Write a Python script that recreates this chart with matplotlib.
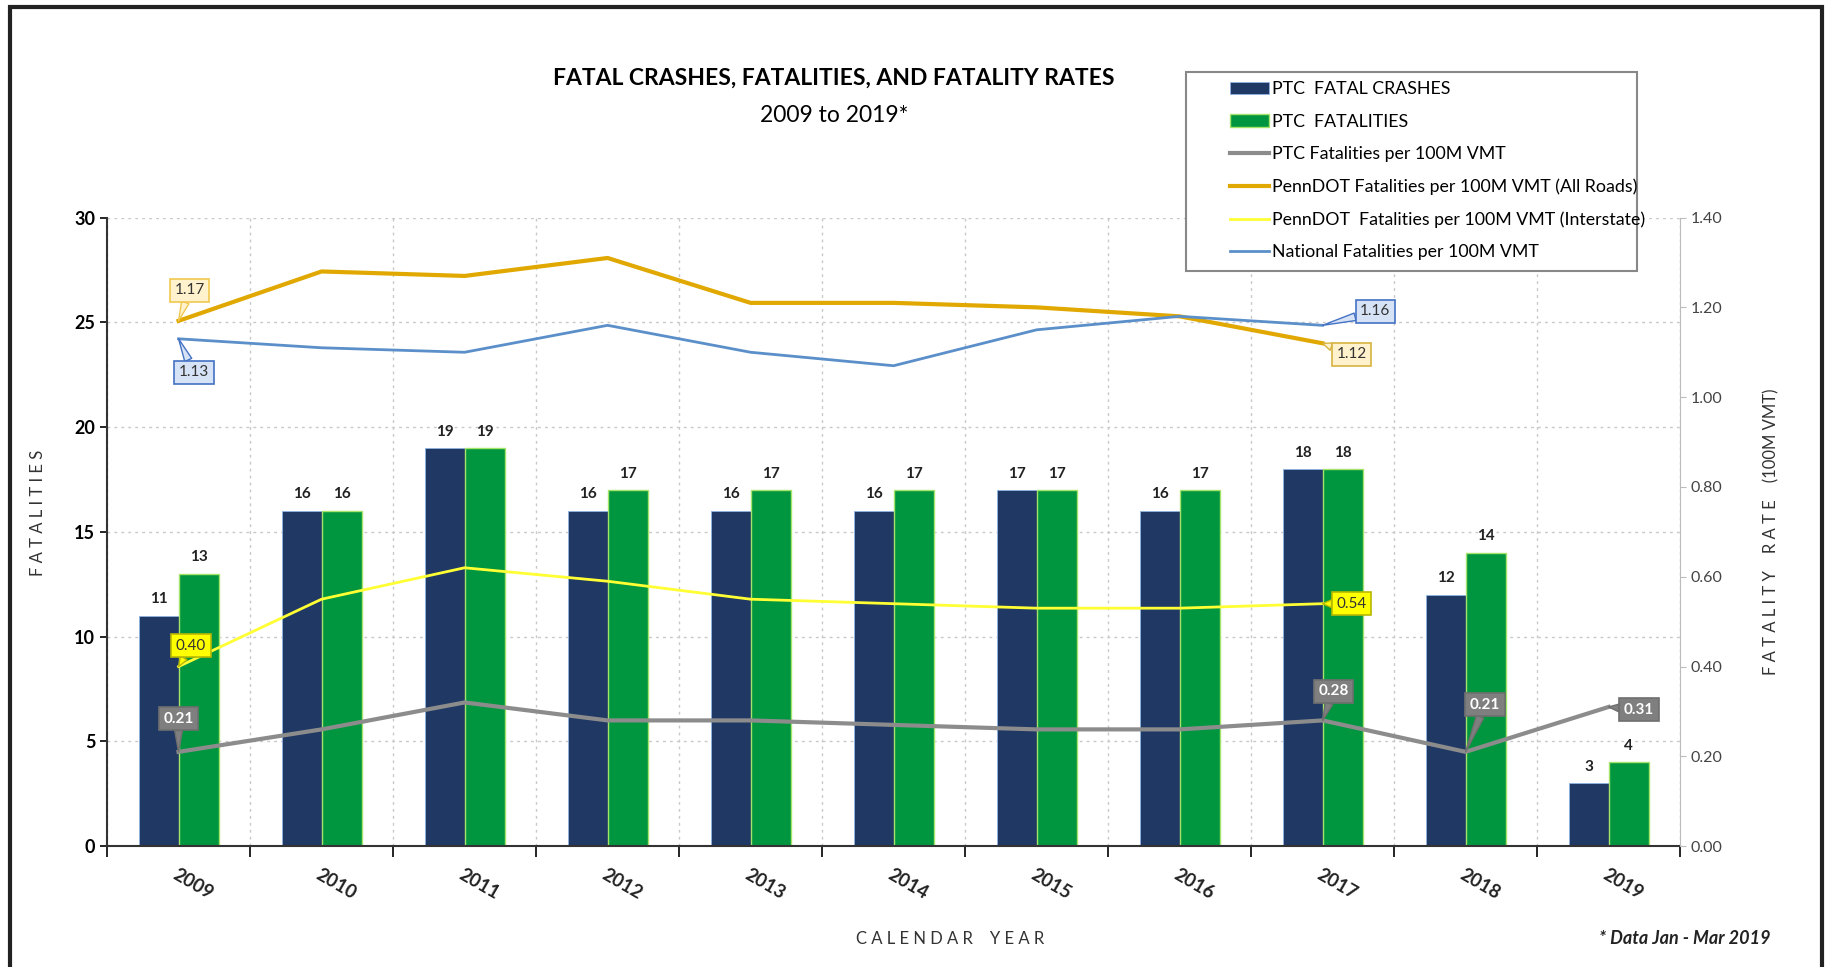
import matplotlib
matplotlib.use("Agg")
import matplotlib.pyplot as plt
import numpy as np
from matplotlib.patches import Rectangle

plt.rcParams['font.family'] = ['Lato', 'DejaVu Sans']

years = ["2009", "2010", "2011", "2012", "2013", "2014", "2015", "2016", "2017", "2018", "2019"]
fatal_crashes = [11, 16, 19, 16, 16, 16, 17, 16, 18, 12, 3]
fatalities = [13, 16, 19, 17, 17, 17, 17, 17, 18, 14, 4]
ptc_rate = [0.21, 0.26, 0.32, 0.28, 0.28, 0.27, 0.26, 0.26, 0.28, 0.21, 0.31]
penndot_all = [1.17, 1.28, 1.27, 1.31, 1.21, 1.21, 1.20, 1.18, 1.12]
penndot_interstate = [0.40, 0.55, 0.62, 0.59, 0.55, 0.54, 0.53, 0.53, 0.54]
national = [1.13, 1.11, 1.10, 1.16, 1.10, 1.07, 1.15, 1.18, 1.16]

NAVY = "#1F3864"
GREEN = "#00963F"
GRAY = "#8C8C8C"
GOLD = "#E0A800"
YELLOW = "#FFFF33"
BLUE = "#5B8FC9"

fig = plt.figure(figsize=(18.27, 9.67), dpi=100)
ax = fig.add_axes([0.0586, 0.125, 0.861, 0.650])
ax2 = ax.twinx()

x = np.arange(len(years))
w = 0.28
b1 = ax.bar(x - w / 2, fatal_crashes, w, color=NAVY, edgecolor="#8FB4E3", linewidth=0.6,
            label="PTC  FATAL CRASHES", zorder=2)
b2 = ax.bar(x + w / 2, fatalities, w, color=GREEN, edgecolor="#A6E36B", linewidth=1.0,
            label="PTC  FATALITIES", zorder=2)
for bars in (b1, b2):
    for r in bars:
        ax.text(r.get_x() + r.get_width() / 2, r.get_height() + 0.45, f"{r.get_height():.0f}",
                ha="center", va="bottom", fontsize=11, fontweight="bold", color="#222222")

ax.set_xlim(-0.5, len(years) - 0.5)
ax.set_ylim(0, 30)
ax.set_yticks([0, 5, 10, 15, 20, 25, 30])
ax.set_xticks(x)
ax.set_xticklabels(years, rotation=-30, ha="left", rotation_mode="anchor",
                   fontsize=13.5, fontweight="bold", color="#222222")
ax.tick_params(axis="x", length=0, pad=14)
ax.set_xticks(np.arange(-0.5, len(years)), minor=True)
ax.tick_params(axis="x", which="minor", length=8, direction="out", width=1.2)
ax.tick_params(axis="y", labelsize=13, length=5, width=1.2)
for t in ax.get_yticklabels():
    t.set_fontweight("bold")
ax.grid(axis="y", which="major", linestyle=(0, (2, 3)), color="#C8C8C8", linewidth=1, zorder=0)
ax.grid(axis="x", which="minor", linestyle=(0, (2, 3)), color="#C8C8C8", linewidth=1, zorder=0)
ax.set_axisbelow(True)
for s in ["top", "right"]:
    ax.spines[s].set_visible(False)
ax.spines["left"].set_linewidth(1.5)
ax.spines["bottom"].set_linewidth(1.5)
ax.spines["left"].set_color("#333333")
ax.spines["bottom"].set_color("#333333")

l1, = ax2.plot(x, ptc_rate, color=GRAY, linewidth=3, label="PTC Fatalities per 100M VMT", zorder=3)
l2, = ax2.plot(x[:len(penndot_all)], penndot_all, color=GOLD, linewidth=3,
               label="PennDOT Fatalities per 100M VMT (All Roads)", zorder=3)
l3, = ax2.plot(x[:len(penndot_interstate)], penndot_interstate, color=YELLOW, linewidth=2,
               label="PennDOT  Fatalities per 100M VMT (Interstate)", zorder=3)
l4, = ax2.plot(x[:len(national)], national, color=BLUE, linewidth=2,
               label="National Fatalities per 100M VMT", zorder=3)
ax2.set_ylim(0, 1.4)
ax2.set_yticks(np.arange(0, 1.41, 0.2))
ax2.set_yticklabels([f"{v:.2f}" for v in np.arange(0, 1.41, 0.2)])
ax2.tick_params(axis="y", labelsize=11.5, length=4, colors="#444444")
ax2.tick_params(axis="y", color="#BBBBBB")
for s in ["top", "left", "bottom"]:
    ax2.spines[s].set_visible(False)
ax2.spines["right"].set_color("#BBBBBB")


def callout(xi, yi, text, dx, dy, fc, ec, tc="#333333"):
    ax2.annotate(text, xy=(xi, yi), xytext=(dx, dy), textcoords="offset points",
                 ha="center", va="center", fontsize=11, color=tc,
                 fontweight="bold" if tc == "white" else "normal",
                 bbox=dict(boxstyle="square,pad=0.3", fc=fc, ec=ec, lw=1.2),
                 arrowprops=dict(arrowstyle="wedge,tail_width=0.5", fc=fc, ec=ec, lw=1.0,
                                 shrinkA=0, shrinkB=0), zorder=5)


callout(0, penndot_all[0], "1.17", 8, 22, "#FFF2CC", "#F0C850")
callout(0, national[0], "1.13", 11, -24, "#D6E2F5", "#4472C4")
callout(8, national[8], "1.16", 38, 10, "#D6E2F5", "#4472C4")
callout(8, penndot_all[8], "1.12", 21, -8, "#FFF2CC", "#D6B340")
callout(0, penndot_interstate[0], "0.40", 9, 15, "#FFFF00", "#B8B800")
callout(8, penndot_interstate[8], "0.54", 21, 0, "#FFFF00", "#B8B800")
callout(0, ptc_rate[0], "0.21", 0, 24, "#7F7F7F", "#6F6F6F", "white")
callout(8, ptc_rate[8], "0.28", 8, 21, "#7F7F7F", "#6F6F6F", "white")
callout(9, ptc_rate[9], "0.21", 14, 34, "#7F7F7F", "#6F6F6F", "white")
callout(10, ptc_rate[10], "0.31", 22, -2, "#7F7F7F", "#6F6F6F", "white")

handles = [b1, b2, l1, l2, l3, l4]
leg = fig.legend(handles=handles, labels=[h.get_label() for h in handles],
                 loc="upper left", bbox_to_anchor=(1225 / 1827, 1 - 76 / 967),
                 fontsize=12.8, frameon=False,
                 handlelength=2.2, handleheight=0.7, handletextpad=0.15,
                 labelspacing=0.92, borderpad=0.3, borderaxespad=0)
leg.set_zorder(10)
fig.patches.append(Rectangle((1186 / 1827, 1 - 271 / 967), (1637 - 1186) / 1827, (271 - 72) / 967,
                             transform=fig.transFigure, fc="white", ec="#888888", lw=1.5, zorder=9))

fig.text(834 / 1827, 1 - 78 / 967, "FATAL CRASHES, FATALITIES, AND FATALITY RATES",
         ha="center", va="center", fontsize=16.5, fontweight="bold")
fig.text(834 / 1827, 1 - 115 / 967, "2009 to 2019*", ha="center", va="center", fontsize=16.5)
fig.text(38 / 1827, 0.125 + 0.65 * 0.5 + 0.02, "F A T A L I T I E S", rotation=90,
         ha="center", va="center", fontsize=12, color="#333333")
fig.text(1771 / 1827, 0.125 + 0.65 * 0.5, "F A T A L I T Y    R A T E    (100M VMT)", rotation=90,
         ha="center", va="center", fontsize=12, color="#333333")
fig.text(950 / 1827, 1 - 939 / 967, "C A L E N D A R    Y E A R", ha="center", va="center",
         fontsize=12, color="#333333")
fig.text(1771 / 1827, 1 - 939 / 967, "* Data Jan - Mar 2019", ha="right", va="center",
         fontsize=13, fontweight="bold", style="italic", color="#222222")

fig.patches.append(Rectangle((10 / 1827, -0.05), (1822 - 10) / 1827, 1.05 - 7 / 967,
                             transform=fig.transFigure, fill=False, ec="#222222", lw=3))

fig.savefig("out.png", dpi=100)
